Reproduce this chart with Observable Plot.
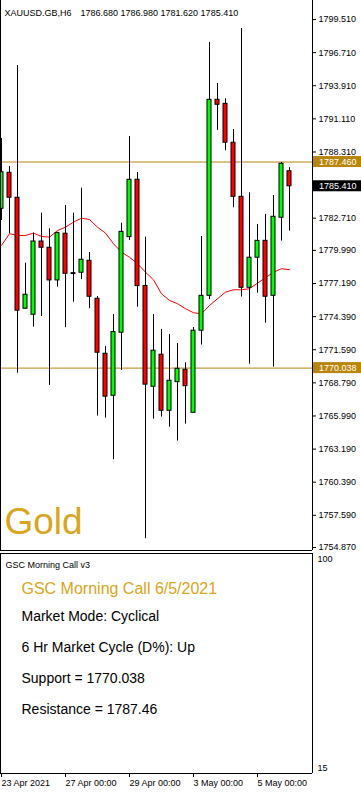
<!DOCTYPE html>
<html><head><meta charset="utf-8">
<script src="https://cdn.jsdelivr.net/npm/d3@7"></script>
<script src="https://cdn.jsdelivr.net/npm/@observablehq/plot@0.6"></script>
<style>
html,body{margin:0;padding:0;background:#fff;}
#chart{width:361px;height:792px;overflow:hidden;background:#fff;}
#chart svg{display:block;}
</style></head><body><div id="chart"></div>
<script>
// ---------- data ----------
const symbolLabel = "XAUUSD.GB,H6";
const ohlcHeader = [1786.680, 1786.980, 1781.620, 1785.410];
const opens  = [1783.51,1786.55,1784.44,1775.06,1774.55,1780.74,1780.21,1777.45,1781.40,1778.07,1778.10,1779.11,1775.90,1771.25,1767.70,1773.03,1781.11,1785.96,1776.98,1768.46,1771.17,1766.43,1768.85,1769.90,1766.26,1773.20,1776.15,1792.72,1792.38,1789.09,1784.52,1776.83,1779.37,1780.80,1776.15,1782.75,1786.68];
const highs  = [1789.45,1787.08,1795.62,1778.91,1781.45,1783.14,1781.82,1781.53,1783.79,1783.14,1785.25,1779.81,1776.09,1771.87,1774.57,1782.29,1789.62,1786.58,1781.11,1774.57,1773.31,1772.88,1772.12,1770.49,1773.47,1781.17,1797.57,1794.10,1792.81,1790.21,1798.75,1784.86,1782.18,1783.03,1784.63,1787.42,1786.98];
const lows   = [1782.52,1781.40,1769.61,1775.00,1773.50,1774.40,1768.57,1776.88,1773.45,1775.61,1777.51,1775.06,1765.98,1765.81,1762.29,1769.84,1780.83,1775.19,1755.61,1765.72,1765.89,1765.05,1763.86,1765.30,1766.26,1771.98,1775.82,1790.13,1788.41,1783.59,1776.04,1770.37,1776.37,1773.84,1770.12,1780.77,1781.62];
const closes = [1786.60,1784.44,1774.89,1776.24,1780.74,1780.21,1777.45,1781.45,1778.01,1778.07,1779.20,1776.07,1771.34,1767.62,1773.08,1781.56,1785.96,1776.97,1768.64,1771.51,1766.43,1768.97,1769.98,1768.51,1773.20,1776.15,1792.72,1792.30,1789.09,1784.52,1776.83,1779.37,1780.80,1776.07,1782.83,1787.31,1785.41];
const maValues = [1780.41,1781.40,1781.25,1781.25,1781.45,1781.17,1781.11,1781.67,1781.95,1782.38,1782.71,1782.60,1781.95,1781.45,1780.55,1779.84,1779.41,1778.86,1778.15,1777.50,1776.32,1775.76,1775.48,1775.06,1774.72,1774.63,1775.33,1775.90,1776.46,1776.66,1776.66,1776.75,1777.22,1777.68,1778.15,1778.44,1778.36];
const priceTicks = [1799.510,1796.710,1793.910,1791.110,1788.310,1782.710,1779.990,1777.190,1774.390,1771.590,1768.790,1765.990,1763.190,1760.390,1757.590,1754.870];
const timeTickIndex = [0, 8, 16, 24, 32];
const timeTickLabels = ["23 Apr 2021", "27 Apr 00:00", "29 Apr 00:00", "3 May 00:00", "5 May 00:00"];
const support = 1770.038;
const resistance = 1787.46;
const lastPrice = 1785.41;
const watermark = "Gold";
const indicatorName = "GSC Morning Call v3";
const indicatorTitle = "GSC Morning Call 6/5/2021";
const indicatorLines = ["Market Mode: Cyclical", "6 Hr Market Cycle (D%): Up", "Support = 1770.038", "Resistance = 1787.46"];
const indicatorRange = [15, 100];

// ---------- layout ----------
const FONT = "'Liberation Sans', Arial, sans-serif";
const GOLD = "#DAA520";
const DGOLD = "#B8860B";
const barStep = 8;                      // px per candle
const xDomain = [-1 / barStep, (312 - 1) / barStep];
const yDomain = [1754.617, 1801.116];
const pxPerUnit = 550 / (yDomain[1] - yDomain[0]);
const boxHalf = 5.5 / pxPerUnit;
const axX1 = xDomain[1] + 1 / barStep, axX2 = xDomain[1] + 49 / barStep, axText = xDomain[1] + 6.5 / barStep;

const candles = opens.map((o, i) => ({i, o, h: highs[i], l: lows[i], c: closes[i]}));
const bodies = candles.filter(d => d.o !== d.c);
const dojis = candles.filter(d => d.o === d.c);
const boxes = [
  {p: resistance, fill: DGOLD, label: resistance.toFixed(3)},
  {p: lastPrice, fill: "#000000", label: lastPrice.toFixed(3)},
  {p: support, fill: DGOLD, label: support.toFixed(3)}
];

const topChart = Plot.plot({
  width: 361, height: 552,
  marginLeft: 0, marginRight: 49, marginTop: 0, marginBottom: 2,
  x: {type: "linear", domain: xDomain, axis: null},
  y: {type: "linear", domain: yDomain, axis: null},
  style: {fontFamily: FONT, fontSize: "9px", background: "#fff", overflow: "visible", color: "#000"},
  marks: [
    Plot.ruleY([resistance, support], {stroke: DGOLD, strokeWidth: 1}),
    Plot.line(maValues, {x: (d, i) => i, y: d => d, stroke: "#FF0000", strokeWidth: 1}),
    Plot.ruleX(candles, {x: "i", y1: "l", y2: "h", stroke: "#000", strokeWidth: 1}),
    Plot.rect(bodies, {x1: d => d.i - 0.25, x2: d => d.i + 0.25, y1: "o", y2: "c",
      fill: d => d.c > d.o ? "#00FF00" : "#FF0000", stroke: "#000", strokeWidth: 1}),
    Plot.ruleY(dojis, {y: "o", x1: d => d.i - 0.3, x2: d => d.i + 0.3, stroke: "#000", strokeWidth: 2}),
    Plot.axisY({anchor: "right", ticks: priceTicks, tickFormat: d => d.toFixed(3), tickSize: 3, tickPadding: 3, fontSize: 9}),
    Plot.rect(boxes, {x1: axX1, x2: axX2, y1: d => d.p - boxHalf, y2: d => d.p + boxHalf, fill: "fill"}),
    Plot.text(boxes, {x: axText, y: "p", text: "label", fill: "#fff", textAnchor: "start", fontSize: 9}),
    Plot.ruleX([xDomain[0]], {stroke: "#000", strokeWidth: 1}),
    Plot.ruleX([xDomain[1]], {stroke: "#000", strokeWidth: 1}),
    Plot.ruleY([yDomain[0]], {stroke: "#000", strokeWidth: 1}),
    Plot.text([symbolLabel], {frameAnchor: "top-left", dx: 4, dy: 9, textAnchor: "start", fontSize: 9}),
    Plot.text([ohlcHeader.map(v => v.toFixed(3)).join(" ")], {frameAnchor: "top-left", dx: 80, dy: 9, textAnchor: "start", fontSize: 9}),
    Plot.text([watermark], {frameAnchor: "bottom-left", dx: 4, dy: -17, lineAnchor: "bottom", textAnchor: "start", fontSize: 37, fill: GOLD})
  ]
});

const lineDy = [58, 89, 120, 151];
const bottomChart = Plot.plot({
  width: 361, height: 240,
  marginLeft: 0, marginRight: 49, marginTop: 1, marginBottom: 19,
  x: {type: "linear", domain: xDomain},
  y: {type: "linear", domain: indicatorRange, axis: null},
  style: {fontFamily: FONT, fontSize: "9px", background: "#fff", overflow: "visible", color: "#000"},
  marks: [
    Plot.ruleX([xDomain[0]], {stroke: "#000", strokeWidth: 1}),
    Plot.ruleX([xDomain[1]], {stroke: "#000", strokeWidth: 1}),
    Plot.ruleY(indicatorRange, {stroke: "#000", strokeWidth: 1}),
    Plot.axisX({anchor: "bottom", ticks: timeTickIndex,
      tickFormat: d => timeTickLabels[timeTickIndex.indexOf(d)],
      textAnchor: "start", tickSize: 4, tickPadding: 2, fontSize: 9}),
    Plot.text([indicatorRange[1]], {x: xDomain[1], y: d => d, dx: 5, dy: 6, textAnchor: "start", fontSize: 9}),
    Plot.text([indicatorRange[0]], {x: xDomain[1], y: d => d, dx: 5, dy: -5, textAnchor: "start", fontSize: 9}),
    Plot.text([indicatorName], {frameAnchor: "top-left", dx: 5, dy: 8.5, textAnchor: "start", fontSize: 9}),
    Plot.text([indicatorTitle], {frameAnchor: "top-left", dx: 21, dy: 29, textAnchor: "start", fontSize: 16, fill: GOLD}),
    ...indicatorLines.map((t, k) => Plot.text([t], {frameAnchor: "top-left", dx: 21, dy: lineDy[k], textAnchor: "start", fontSize: 14, fill: "#000"}))
  ]
});

const root = document.getElementById("chart");
root.appendChild(topChart);
root.appendChild(bottomChart);
</script>
</body></html>
